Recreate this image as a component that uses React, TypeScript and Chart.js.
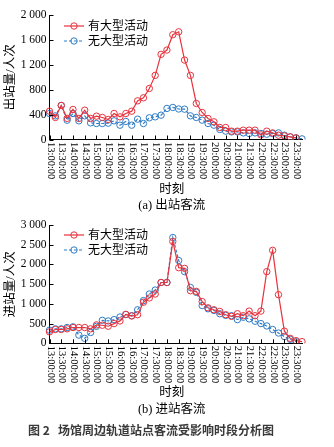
import React, { useEffect, useRef } from 'react';
import { Chart, registerables } from 'chart.js';

Chart.register(...registerables);

const TIME_LABELS = [
  '13:00:00', '13:15:00', '13:30:00', '13:45:00', '14:00:00', '14:15:00', '14:30:00', '14:45:00',
  '15:00:00', '15:15:00', '15:30:00', '15:45:00', '16:00:00', '16:15:00', '16:30:00', '16:45:00',
  '17:00:00', '17:15:00', '17:30:00', '17:45:00', '18:00:00', '18:15:00', '18:30:00', '18:45:00',
  '19:00:00', '19:15:00', '19:30:00', '19:45:00', '20:00:00', '20:15:00', '20:30:00', '20:45:00',
  '21:00:00', '21:15:00', '21:30:00', '21:45:00', '22:00:00', '22:15:00', '22:30:00', '22:45:00',
  '23:00:00', '23:15:00', '23:30:00', '23:45:00',
];

const SERIES_NAMES = ['有大型活动', '无大型活动'];

// (a) 出站客流
const OUT_WITH_EVENT = [
  455, 354, 547, 340, 483, 338, 471, 338, 375, 354, 322, 418, 364, 418, 455, 621,
  670, 820, 1030, 1368, 1437, 1683, 1730, 1276, 1030, 579, 434, 338, 284, 193, 193, 134,
  134, 150, 150, 150, 74, 134, 106, 69, 58, 42, 26, null,
];
const OUT_NO_EVENT = [
  418, 380, 547, 310, 418, 300, 380, 267, 257, 257, 262, 300, 230, 290, 230, 327,
  257, 348, 364, 391, 499, 515, 490, 487, 380, 354, 311, 257, 230, 161, 134, 122,
  122, 106, 96, 106, 96, 85, 95, 106, 69, 42, 26, 10,
];

// (b) 进站客流
const IN_WITH_EVENT = [
  290, 350, 350, 367, 400, 400, 400, 367, 467, 458, 433, 500, 567, 733, 692, 725,
  1042, 1150, 1250, 1542, 1542, 2583, 1917, 1900, 1333, 1317, 1058, 900, 850, 808, 725, 683,
  750, 700, 817, 700, 817, 1817, 2358, 1233, 308, 125, 67, 42,
];
const IN_NO_EVENT = [
  333, 367, 367, 400, 417, 208, 125, 275, 430, 583, 567, 600, 667, 730, 700, 850,
  1083, 1250, 1350, 1542, 1542, 2683, 2100, 1817, 1417, 1292, 958, 875, 833, 750, 708, 700,
  600, 660, 620, 560, 500, 440, 350, 260, 170, 100, 40, null,
];

const OUT_Y_MAX = 2000;
const OUT_Y_STEP = 400;
const IN_Y_MAX = 3000;
const IN_Y_STEP = 500;

const RED = '#e8323c';
const BLUE = '#2e7cc6';
const SERIF = "'Liberation Serif', 'Noto Sans CJK SC', serif";

function fmtThousands(v: number): string {
  if (v >= 1000) {
    const th = Math.floor(v / 1000);
    const rest = String(v % 1000).padStart(3, '0');
    return `${th} ${rest}`;
  }
  return String(v);
}

const decorPlugin = {
  id: 'decor',
  afterDraw(chart: any, _args: any, opts: any) {
    const ctx = chart.ctx;
    const xs = chart.scales.x;
    const ys = chart.scales.y;
    const { left, right, bottom } = chart.chartArea;
    ctx.save();
    ctx.strokeStyle = '#000';
    ctx.lineWidth = 1;
    ctx.setLineDash([]);
    // inward y ticks
    ys.ticks.forEach((t: any) => {
      const y = Math.round(ys.getPixelForValue(t.value)) + 0.5;
      ctx.beginPath();
      ctx.moveTo(left, y);
      ctx.lineTo(left + 4, y);
      ctx.stroke();
    });
    // inward x ticks + rotated labels
    ctx.fillStyle = '#000';
    ctx.font = `10.5px ${SERIF}`;
    const labels: string[] = chart.data.labels;
    labels.forEach((lab, i) => {
      if (i % 2 !== 0) return;
      const x = Math.round(xs.getPixelForValue(i)) + 0.5;
      ctx.beginPath();
      ctx.moveTo(x, bottom);
      ctx.lineTo(x, bottom - 4);
      ctx.stroke();
      ctx.save();
      ctx.translate(x, bottom + 2.5);
      ctx.rotate(Math.PI / 2);
      ctx.textAlign = 'left';
      ctx.textBaseline = 'middle';
      ctx.fillText(lab, 0, 0);
      ctx.restore();
    });
    // x title and caption
    ctx.font = `12.5px ${SERIF}`;
    ctx.textAlign = 'center';
    ctx.textBaseline = 'middle';
    const cx = (left + right) / 2 - 4;
    ctx.fillText(opts.xTitle, cx, opts.xTitleY);
    ctx.fillText(opts.caption, cx, opts.captionY);
    // legend
    chart.data.datasets.forEach((ds: any, i: number) => {
      const y = opts.legendY[i];
      ctx.save();
      ctx.strokeStyle = ds.borderColor;
      ctx.lineWidth = 1.2;
      ctx.setLineDash(ds.borderDash || []);
      ctx.beginPath();
      ctx.moveTo(64, y);
      ctx.lineTo(84, y);
      ctx.stroke();
      ctx.setLineDash([]);
      ctx.lineWidth = 1;
      ctx.beginPath();
      ctx.arc(74, y, 3.2, 0, Math.PI * 2);
      ctx.stroke();
      ctx.fillStyle = '#000';
      ctx.font = `12px ${SERIF}`;
      ctx.textAlign = 'left';
      ctx.textBaseline = 'middle';
      ctx.fillText(ds.label, 88, y + 0.5);
      ctx.restore();
    });
    ctx.restore();
  },
};

interface PanelProps {
  top: number;
  height: number;
  plotTop: number;
  plotBottom: number;
  withEvent: (number | null)[];
  noEvent: (number | null)[];
  yMax: number;
  yStep: number;
  yTitle: string;
  xTitleY: number;
  caption: string;
  captionY: number;
  legendY: number[];
}

function Panel(p: PanelProps) {
  const ref = useRef<HTMLCanvasElement | null>(null);
  useEffect(() => {
    if (!ref.current) return;
    const chart = new Chart(ref.current, {
      type: 'line',
      data: {
        labels: TIME_LABELS,
        datasets: [
          {
            label: SERIES_NAMES[0],
            data: p.withEvent,
            borderColor: RED,
            backgroundColor: 'rgba(0,0,0,0)',
            borderWidth: 1.2,
            pointRadius: 3.2,
            pointBorderWidth: 1,
            pointBorderColor: RED,
            pointBackgroundColor: 'rgba(0,0,0,0)',
            tension: 0,
            spanGaps: false,
          },
          {
            label: SERIES_NAMES[1],
            data: p.noEvent,
            borderColor: BLUE,
            backgroundColor: 'rgba(0,0,0,0)',
            borderWidth: 1.2,
            borderDash: [3, 2],
            pointRadius: 3.2,
            pointBorderWidth: 1,
            pointBorderColor: BLUE,
            pointBackgroundColor: 'rgba(0,0,0,0)',
            tension: 0,
            spanGaps: false,
          },
        ],
      },
      options: {
        animation: false,
        responsive: false,
        maintainAspectRatio: false,
        layout: { padding: { left: 3, right: 32, top: p.plotTop, bottom: 0 } },
        plugins: {
          legend: { display: false },
          tooltip: { enabled: false },
          decor: {
            xTitle: '时刻',
            xTitleY: p.xTitleY,
            caption: p.caption,
            captionY: p.captionY,
            legendY: p.legendY,
          },
        } as any,
        scales: {
          x: {
            type: 'category',
            offset: false,
            grid: { display: false },
            border: { display: true, color: '#000', width: 1 },
            ticks: { display: false },
            afterFit: (s: any) => {
              s.height = p.height - p.plotBottom;
            },
          },
          y: {
            min: 0,
            max: p.yMax,
            grid: { display: false, drawTicks: false },
            border: { display: true, color: '#000', width: 1 },
            ticks: {
              stepSize: p.yStep,
              padding: 3,
              color: '#000',
              font: { family: SERIF, size: 11.5 },
              callback: (v: any) => fmtThousands(Number(v)),
            },
            title: {
              display: true,
              text: p.yTitle,
              color: '#000',
              font: { family: SERIF, size: 12.5 },
              padding: { top: 0, bottom: 0 },
            },
            afterFit: (s: any) => {
              s.width = 46.5;
            },
          },
        },
      },
      plugins: [decorPlugin],
    } as any);
    return () => chart.destroy();
  }, []);
  return (
    <canvas
      ref={ref}
      width={334}
      height={p.height}
      style={{ position: 'absolute', left: 0, top: p.top, width: 334, height: p.height }}
    />
  );
}

export default function App() {
  return (
    <div style={{ position: 'absolute', left: 0, top: 0, width: 334, height: 447, background: '#fff', overflow: 'hidden' }}>
      <Panel
        top={0}
        height={215}
        plotTop={15}
        plotBottom={139.5}
        withEvent={OUT_WITH_EVENT}
        noEvent={OUT_NO_EVENT}
        yMax={OUT_Y_MAX}
        yStep={OUT_Y_STEP}
        yTitle="出站量/人次"
        xTitleY={190}
        caption="(a) 出站客流"
        captionY={206}
        legendY={[26, 41]}
      />
      <Panel
        top={212}
        height={210}
        plotTop={13}
        plotBottom={131.3}
        withEvent={IN_WITH_EVENT}
        noEvent={IN_NO_EVENT}
        yMax={IN_Y_MAX}
        yStep={IN_Y_STEP}
        yTitle="进站量/人次"
        xTitleY={181}
        caption="(b) 进站客流"
        captionY={198}
        legendY={[23, 38]}
      />
      <div
        style={{
          position: 'absolute',
          left: 28,
          top: 421,
          whiteSpace: 'pre',
          fontFamily: "'Noto Sans CJK SC', sans-serif",
          fontWeight: 700,
          fontSize: 12,
          lineHeight: '18px',
          color: '#3a3a3a',
        }}
      >
        {'图 2   场馆周边轨道站点客流受影响时段分析图'}
      </div>
    </div>
  );
}
